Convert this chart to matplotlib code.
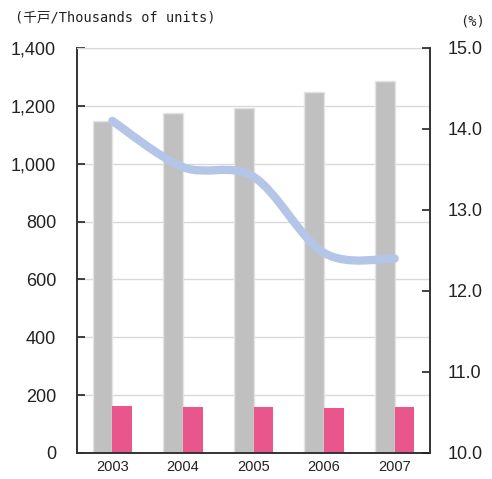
import matplotlib
matplotlib.use('Agg')
import matplotlib.pyplot as plt
from matplotlib.path import Path
from matplotlib.patches import PathPatch
import numpy as np

years = ['2003', '2004', '2005', '2006', '2007']
starts = [1146, 1175, 1193, 1249, 1285]      # grey bars, thousands of units
other = [163, 159, 159, 156, 159]            # pink bars
share = [14.1, 13.53, 13.41, 12.47, 12.4]    # line, %

num_font = ['Liberation Sans Narrow', 'Liberation Sans', 'DejaVu Sans']
lbl_font = ['DejaVu Sans Mono', 'Noto Sans CJK JP']

fig = plt.figure(figsize=(4.92, 4.79), dpi=100)
ax = fig.add_axes([0.1565, 0.0543, 0.874 - 0.1565, 0.8998 - 0.0543])

x = np.arange(len(years))
w = 0.28
ax.bar(x - w / 2, starts, width=w, color='#c0c0c0', edgecolor='#e4e4e4', linewidth=1, zorder=2)
ax.bar(x + w / 2, other, width=w, color='#e9568b', edgecolor='none', zorder=2)

ax.set_xlim(-0.5, 4.5)
ax.set_ylim(0, 1400)
ax.set_yticks(range(0, 1401, 200))
ax.set_yticklabels([f'{v:,}' for v in range(0, 1401, 200)], fontfamily=num_font, fontsize=13)
ax.set_xticks(x)
ax.set_xticklabels(years, fontfamily=num_font, fontsize=10.5)
ax.yaxis.grid(True, color='#d9d9d9', linewidth=1, zorder=0)
ax.set_axisbelow(True)
ax.tick_params(axis='y', direction='in', length=6, width=1.2, pad=15, colors='#222222')
ax.tick_params(axis='x', length=0, pad=5, colors='#222222')
for s in ['left', 'bottom']:
    ax.spines[s].set_color('#333333')
    ax.spines[s].set_linewidth(1.4)
ax.spines['top'].set_color('#d9d9d9')
ax.spines['right'].set_visible(False)

ax2 = ax.twinx()
ax2.set_ylim(10, 15)
ax2.set_yticks([10, 11, 12, 13, 14, 15])
ax2.set_yticklabels([f'{v:.1f}' for v in [10, 11, 12, 13, 14, 15]], fontfamily=num_font, fontsize=13)
ax2.tick_params(axis='y', direction='in', length=6, width=1.2, pad=13, colors='#222222')
ax2.spines['right'].set_color('#333333')
ax2.spines['right'].set_linewidth(1.4)
for s in ['left', 'top', 'bottom']:
    ax2.spines[s].set_visible(False)

# smooth line through the points (cubic bezier, catmull-rom tangents)
px = list(x.astype(float))
py = list(share)
verts = [(px[0], py[0])]
codes = [Path.MOVETO]
for i in range(len(px) - 1):
    x0, y0 = (px[i - 1], py[i - 1]) if i > 0 else (px[i], py[i])
    x3, y3 = (px[i + 2], py[i + 2]) if i + 2 < len(px) else (px[i + 1], py[i + 1])
    c1 = (px[i] + (px[i + 1] - x0) / 6, py[i] + (py[i + 1] - y0) / 6)
    c2 = (px[i + 1] - (x3 - px[i]) / 6, py[i + 1] - (y3 - py[i]) / 6)
    verts += [c1, c2, (px[i + 1], py[i + 1])]
    codes += [Path.CURVE4] * 3
ax2.add_patch(PathPatch(Path(verts, codes), facecolor='none', edgecolor='#b4c6e7',
                        linewidth=6, capstyle='round', joinstyle='round', zorder=3))

fig.text(0.03, 0.963, '(千戸/Thousands of units)', fontfamily=lbl_font, fontsize=9.8,
         color='#222222', va='center', ha='left')
fig.text(0.985, 0.956, '(%)', fontfamily=lbl_font, fontsize=9.8, color='#222222',
         va='center', ha='right')

fig.savefig('out.png', dpi=100)
